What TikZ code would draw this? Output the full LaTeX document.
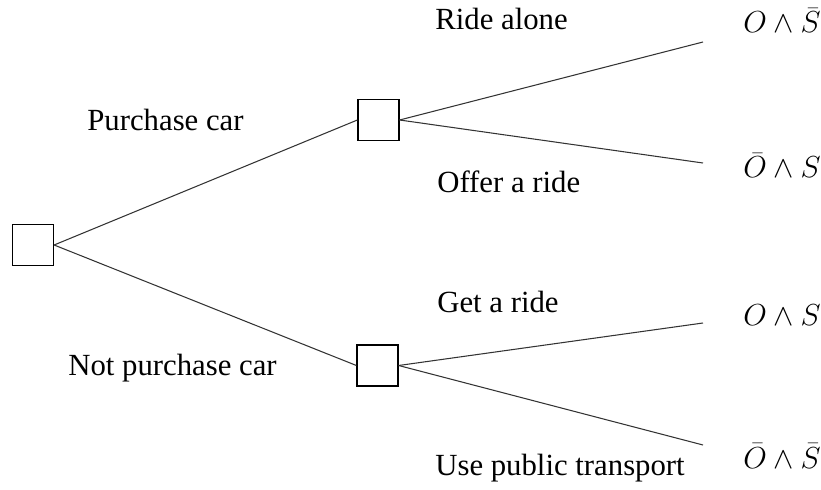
\documentclass[tikz,border=0pt]{standalone}
\usepackage{fontspec}
\setmainfont{Liberation Serif}
\usepackage{tikz}
\usetikzlibrary{positioning}

\begin{document}
\begin{tikzpicture}[
  font=\fontsize{17.5}{21}\selectfont,
  choice/.style={draw, line width=0.7pt, minimum width=0.82cm, minimum height=0.82cm, inner sep=0pt},
  branch/.style={line width=0.6pt, black!80},
  lbl/.style={anchor=base west, inner sep=0pt},
  outcome/.style={anchor=base west, inner sep=0pt}
]

% Frame
\useasboundingbox (0,0) rectangle (16.42,9.78);

% Decision boxes
\node[choice] (root) at (0.66, 4.88) {};
\node[choice] (buy)  at (7.57, 7.38) {};
\node[choice] (nobuy) at (7.55, 2.47) {};

% Branch ends
\coordinate (alone) at (14.06, 8.94);
\coordinate (offer) at (14.06, 6.52);
\coordinate (get)   at (14.06, 3.32);
\coordinate (bus)   at (14.06, 0.88);

% Branches
\draw[branch] (root.east) -- (buy.west);
\draw[branch] (root.east) -- (nobuy.west);
\draw[branch] (buy.east) -- (alone);
\draw[branch] (buy.east) -- (offer);
\draw[branch] (nobuy.east) -- (get);
\draw[branch] (nobuy.east) -- (bus);

% Branch labels
\node[lbl] (lbuy)   at (1.74, 7.16) {Purchase car};
\node[lbl] (lnobuy) at (1.36, 2.28) {Not purchase car};
\node[lbl] (lalone) at (8.70, 9.18) {Ride alone};
\node[lbl] (loffer) at (8.74, 5.92) {Offer a ride};
\node[lbl] (lget)   at (8.74, 3.52) {Get a ride};
\node[lbl] (lbus)   at (8.70, 0.28) {Use public transport};

% Outcomes
\node[outcome] (oalone) at (14.86, 9.12) {$O \land \bar{S}$};
\node[outcome] (ooffer) at (14.86, 6.22) {$\bar{O} \land S$};
\node[outcome] (oget)   at (14.86, 3.28) {$O \land S$};
\node[outcome] (obus)   at (14.86, 0.42) {$\bar{O} \land \bar{S}$};

\end{tikzpicture}
\end{document}
